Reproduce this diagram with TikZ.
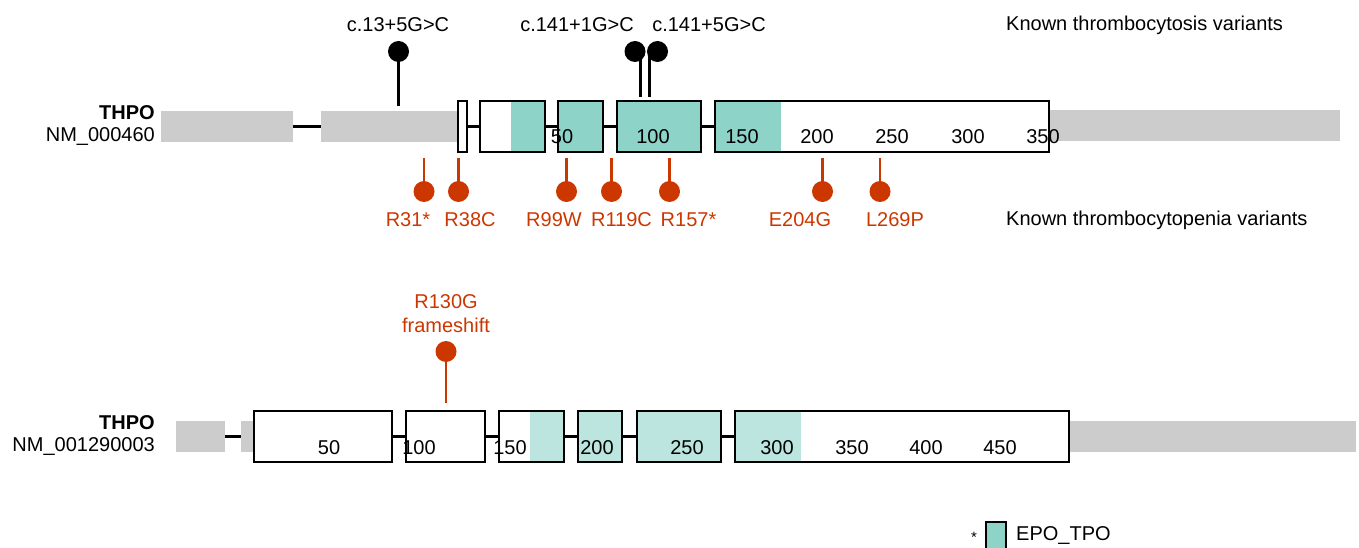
\documentclass[tikz,border=0pt]{standalone}
\usepackage{fontspec}
\setmainfont{Liberation Sans}
\definecolor{utrgray}{RGB}{204,204,204}
\definecolor{domteal}{RGB}{141,211,199}
\definecolor{domlight}{RGB}{187,229,222}
\definecolor{varred}{RGB}{204,55,0}
\tikzset{
  utr/.style={fill=utrgray, draw=none, inner sep=0, outer sep=0, minimum height=31},
  exonbox/.style={draw=black, line width=2, inner sep=0, outer sep=0, minimum height=51},
  intron/.style={line width=2.2},
  stemup/.style={line width=2.2, black},
  stemdn/.style={line width=2.2, varred},
  headup/.style={circle, fill=black, inner sep=0, minimum size=21},
  headdn/.style={circle, fill=varred, inner sep=0, minimum size=21},
  lbl/.style={font=\fontsize{20}{23}\selectfont, inner sep=0},
  redlbl/.style={lbl, text=varred},
}
\begin{document}
\begin{tikzpicture}[x=1pt, y=-1pt]
\useasboundingbox (0,0) rectangle (1359,548);

% ---------- NM_000460 ----------
\node[lbl, font=\fontsize{20}{23}\selectfont\bfseries, anchor=east] (g1) at (155,113) {THPO};
\node[lbl, anchor=east] (t1) at (155,137) {NM\_000460};

\node[utr, minimum width=132] (ua) at (227,126.5) {};
\node[utr, minimum width=136] (ub) at (389,126.5) {};
\node[utr, minimum width=291] (uc) at (1194.5,125.5) {};

% domain shading inside exons
\fill[domteal] (511,101) rectangle (545,152);
\fill[domteal] (558,101) rectangle (603,152);
\fill[domteal] (617,101) rectangle (701,152);
\fill[domteal] (715,101) rectangle (781,152);

\node[exonbox, minimum width=9] (a1) at (462,126.5) {};
\node[exonbox, minimum width=65] (a2) at (512.5,126.5) {};
\node[exonbox, minimum width=45] (a3) at (580.5,126.5) {};
\node[exonbox, minimum width=84] (a4) at (659,126.5) {};
\node[exonbox, minimum width=334] (a5) at (882,126.5) {};

\draw[intron] (ua.east) -- (ub.west);
\draw[intron] (a1.east) -- (a2.west);
\draw[intron] (a2.east) -- (a3.west);
\draw[intron] (a3.east) -- (a4.west);
\draw[intron] (a4.east) -- (a5.west);

% amino-acid ruler
\foreach \px/\n in {562/50, 653/100, 742/150, 817/200, 892/250, 968/300, 1043/350}
  \node[lbl] (ra\n) at (\px,137) {\n};

% thrombocytosis variants (above)
\coordinate (s1b) at (398.5,106); \coordinate (s1t) at (398.5,55);
\coordinate (s2b) at (640.5,97);  \coordinate (s2t) at (640.5,55);
\coordinate (s3b) at (649.5,97);  \coordinate (s3t) at (649.5,55);
\draw[stemup] (s1b) -- (s1t);
\draw[stemup] (s2b) -- (s2t);
\draw[stemup] (s3b) -- (s3t);
\node[headup] (h1) at (398.5,51.5) {};
\node[headup] (h2) at (635,51.5) {};
\node[headup] (h3) at (657.5,51.5) {};
\node[lbl] (v1) at (398,25) {c.13+5G>C};
\node[lbl] (v2) at (577,25) {c.141+1G>C};
\node[lbl] (v3) at (709,25) {c.141+5G>C};
\node[lbl, anchor=west] (k1) at (1006,25) {Known thrombocytosis variants};

% thrombocytopenia variants (below)
\foreach \nm/\px/\lx/\txt in {r1/424/408/R31*, r2/458.5/470/R38C, r3/566.5/554/R99W,
    r4/611.5/621.5/R119C, r5/669.5/688.5/R157*, r6/822.5/800/E204G, r7/880/895/L269P} {
  \coordinate (\nm b) at (\px,158);
  \node[headdn] (\nm h) at (\px,191.5) {};
  \draw[stemdn] (\nm b) -- (\nm h.center);
  \node[redlbl] (\nm l) at (\lx,220) {\txt};
}
\node[lbl, anchor=west] (k2) at (1006,220) {Known thrombocytopenia variants};

% ---------- NM_001290003 ----------
\node[lbl, font=\fontsize{20}{23}\selectfont\bfseries, anchor=east] (g2) at (155,423) {THPO};
\node[lbl, anchor=east] (t2) at (155,447) {NM\_001290003};

\node[utr, minimum width=49] (ud) at (200.5,436.5) {};
\node[utr, minimum width=13] (ue) at (247.5,436.5) {};
\node[utr, minimum width=287] (uf) at (1212.5,436.5) {};

\fill[domlight] (530,411) rectangle (564,462);
\fill[domlight] (578,411) rectangle (622,462);
\fill[domlight] (637,411) rectangle (721,462);
\fill[domlight] (735,411) rectangle (801,462);

\node[exonbox, minimum width=137.5] (b1) at (322.75,436.5) {};
\node[exonbox, minimum width=79] (b2) at (445.5,436.5) {};
\node[exonbox, minimum width=65] (b3) at (531.5,436.5) {};
\node[exonbox, minimum width=44] (b4) at (600,436.5) {};
\node[exonbox, minimum width=84] (b5) at (679,436.5) {};
\node[exonbox, minimum width=334] (b6) at (902,436.5) {};

\draw[intron] (ud.east) -- (ue.west);
\draw[intron] (b1.east) -- (b2.west);
\draw[intron] (b2.east) -- (b3.west);
\draw[intron] (b3.east) -- (b4.west);
\draw[intron] (b4.east) -- (b5.west);
\draw[intron] (b5.east) -- (b6.west);

\foreach \px/\n in {329/50, 419/100, 510/150, 597/200, 687/250, 777/300, 852/350, 926/400, 1000/450}
  \node[lbl] (rb\n) at (\px,448) {\n};

\coordinate (fsb) at (446,403);
\node[headdn] (fsh) at (446,351.5) {};
\draw[stemdn] (fsb) -- (fsh.center);
\node[redlbl] (fsl1) at (446,302) {R130G};
\node[redlbl] (fsl2) at (446,325) {frameshift};

% legend
\node[lbl, font=\fontsize{15}{16}\selectfont] (star) at (974,537) {*};
\node[draw=black, line width=1.8, fill=domteal, inner sep=0, minimum width=20, minimum height=27] (lg) at (996,535.5) {};
\node[lbl, anchor=west] (lgt) at (1016,535) {EPO\_TPO};
\end{tikzpicture}
\end{document}
